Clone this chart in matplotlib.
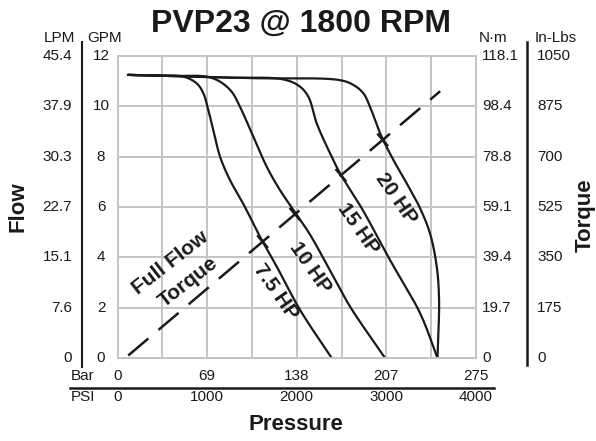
import numpy as np
import matplotlib
matplotlib.use("Agg")
import matplotlib.pyplot as plt
from matplotlib.transforms import blended_transform_factory

plt.rcParams['font.family'] = ['Liberation Sans', 'DejaVu Sans']
plt.rcParams['lines.scale_dashes'] = False

# ---------------- data ----------------
title = "PVP23 @ 1800 RPM"
gpm_ticks = [0, 2, 4, 6, 8, 10, 12]
lpm_labels = ["0", "7.6", "15.1", "22.7", "30.3", "37.9", "45.4"]
nm_labels = ["0", "19.7", "39.4", "59.1", "78.8", "98.4", "118.1"]
inlb_labels = ["0", "175", "350", "525", "700", "875", "1050"]
psi_ticks = [0, 1000, 2000, 3000, 4000]
bar_labels = ["0", "69", "138", "207", "275"]

# flow curves (PSI, GPM)
hp75_psi = [117, 400, 735, 884, 958, 1013, 1069, 1144, 1255, 1400, 1590, 1777, 2037, 2390]
hp75_gpm = [11.25, 11.22, 11.18, 10.91, 10.52, 9.85, 9.06, 8.0, 7.07, 6.15, 4.82, 3.63, 1.91, 0.0]
hp10_psi = [117, 600, 995, 1144, 1274, 1367, 1516, 1665, 1813, 2140, 2408, 2595, 2985]
hp10_gpm = [11.25, 11.21, 11.18, 10.98, 10.58, 9.98, 8.79, 7.6, 6.67, 4.95, 3.23, 2.04, 0.0]
hp15_psi = [117, 1200, 1850, 2030, 2130, 2223, 2372, 2483, 2725, 3041, 3376, 3570]
hp15_gpm = [11.25, 11.14, 11.07, 10.8, 10.38, 9.32, 8.13, 7.34, 5.95, 3.89, 1.78, 0.0]
hp20_psi = [117, 1500, 2483, 2632, 2743, 2818, 2930, 3078, 3227, 3376, 3487, 3562, 3588, 3570]
hp20_gpm = [11.25, 11.12, 11.04, 10.85, 10.52, 9.98, 8.93, 7.87, 6.94, 5.95, 4.95, 3.63, 2.3, 0.0]
curve_labels = ["7.5 HP", "10 HP", "15 HP", "20 HP"]
curve_label_psi = [1760, 2150, 2680, 3110]
curve_label_gpm = [2.62, 3.6, 5.16, 6.35]

# full flow torque line
torque_psi = [120, 3600]
torque_gpm = [0.1, 10.6]

# ---------------- figure ----------------
W, H = 596, 441
fig = plt.figure(figsize=(W / 100, H / 100), dpi=100)
L, R, T, B = 117.5, 476, 56, 358
ax = fig.add_axes([L / W, 1 - B / H, (R - L) / W, (B - T) / H])
ax.set_xlim(0, 4000)
ax.set_ylim(0, 12)
ax.set_xticks(np.arange(0, 4001, 500))
ax.set_yticks(gpm_ticks)
ax.grid(True, color='#c4c4c4', lw=1.4)
ax.tick_params(length=0, labelleft=False, labelbottom=False)
for s in ax.spines.values():
    s.set_color('#c4c4c4')
    s.set_linewidth(1.4)
ax.set_axisbelow(True)


def smooth(px, gy, n=20):
    """Centripetal Catmull-Rom through the points, in pixel-like space."""
    sx, sy = (R - L) / 4000.0, (B - T) / 12.0
    P = np.column_stack([np.asarray(px, float) * sx, np.asarray(gy, float) * sy])
    P = np.vstack([2 * P[0] - P[1], P, 2 * P[-1] - P[-2]])
    out = [P[1]]
    for i in range(1, len(P) - 2):
        p0, p1, p2, p3 = P[i - 1], P[i], P[i + 1], P[i + 2]
        t0 = 0.0
        t1 = t0 + np.linalg.norm(p1 - p0) ** 0.5 + 1e-9
        t2 = t1 + np.linalg.norm(p2 - p1) ** 0.5 + 1e-9
        t3 = t2 + np.linalg.norm(p3 - p2) ** 0.5 + 1e-9
        t = np.linspace(t1, t2, n)[1:, None]
        A1 = (t1 - t) / (t1 - t0) * p0 + (t - t0) / (t1 - t0) * p1
        A2 = (t2 - t) / (t2 - t1) * p1 + (t - t1) / (t2 - t1) * p2
        A3 = (t3 - t) / (t3 - t2) * p2 + (t - t2) / (t3 - t2) * p3
        B1 = (t2 - t) / (t2 - t0) * A1 + (t - t0) / (t2 - t0) * A2
        B2 = (t3 - t) / (t3 - t1) * A2 + (t - t1) / (t3 - t1) * A3
        C = (t2 - t) / (t2 - t1) * B1 + (t - t1) / (t2 - t1) * B2
        out.extend(C)
    out = np.array(out)
    return out[:, 0] / sx, out[:, 1] / sy


curves = [(hp75_psi, hp75_gpm), (hp10_psi, hp10_gpm), (hp15_psi, hp15_gpm), (hp20_psi, hp20_gpm)]
smoothed = []
for px, gy in curves:
    xs_, ys_ = smooth(px, gy)
    smoothed.append((xs_, ys_))
    ax.plot(xs_, ys_, color='#1a1a1a', lw=1.6, solid_capstyle='round', clip_on=False)

ax.plot(torque_psi, torque_gpm, color='#1a1a1a', lw=1.8, dashes=(19, 9.5), clip_on=False)

# tick marks where curves cross the torque line
tp = np.array(torque_psi, float)
tg = np.array(torque_gpm, float)
p0 = ax.transData.transform((tp[0], tg[0]))
p1 = ax.transData.transform((tp[1], tg[1]))
d = (p1 - p0) / np.hypot(*(p1 - p0))
nrm = np.array([-d[1], d[0]])
for cx, cy in smoothed:
    line_y = tg[0] + (cx - tp[0]) * (tg[1] - tg[0]) / (tp[1] - tp[0])
    diff = cy - line_y
    idx = np.where(np.diff(np.sign(diff)) != 0)[0]
    if len(idx):
        i = idx[0]
        c = ax.transData.transform((cx[i], line_y[i]))
        a = ax.transData.inverted().transform(c - nrm * 7)
        b = ax.transData.inverted().transform(c + nrm * 7)
        ax.plot([a[0], b[0]], [a[1], b[1]], color='#1a1a1a', lw=1.8)

for lab, x, y in zip(curve_labels, curve_label_psi, curve_label_gpm):
    ax.text(x, y, lab, rotation=-55, ha='center', va='center', fontsize=15,
            fontweight='bold', color='#1a1a1a', rotation_mode='anchor')
ax.text(590, 3.8, "Full Flow", rotation=38, ha='center', va='center', fontsize=15,
        fontweight='bold', color='#1a1a1a', rotation_mode='anchor')
ax.text(790, 3.0, "Torque", rotation=38, ha='center', va='center', fontsize=15,
        fontweight='bold', color='#1a1a1a', rotation_mode='anchor')

# ---------------- side axes ----------------
fy = blended_transform_factory(fig.transFigure, ax.transData)
tc = '#1a1a1a'
fs = 11
for g, l1, n1, i1 in zip(gpm_ticks, lpm_labels, nm_labels, inlb_labels):
    fig.text(72 / W, g, l1, transform=fy, ha='right', va='center', fontsize=fs, color=tc)
    fig.text(101 / W, g, str(g), transform=fy, ha='center', va='center', fontsize=fs, color=tc)
    fig.text(482 / W, g, n1, transform=fy, ha='left', va='center', fontsize=fs, color=tc)
    fig.text(537 / W, g, i1, transform=fy, ha='left', va='center', fontsize=fs, color=tc)

fig.text(59 / W, 1 - 38 / H, "LPM", ha='center', va='center', fontsize=fs, color=tc)
fig.text(105 / W, 1 - 38 / H, "GPM", ha='center', va='center', fontsize=fs, color=tc)
fig.text(493 / W, 1 - 38 / H, "N·m", ha='center', va='center', fontsize=fs, color=tc)
fig.text(556 / W, 1 - 38 / H, "In-Lbs", ha='center', va='center', fontsize=fs, color=tc)

fig.add_artist(plt.Line2D([82 / W, 82 / W], [1 - 42 / H, 1 - 367 / H], color='#1a1a1a', lw=1.5))
fig.add_artist(plt.Line2D([527 / W, 527 / W], [1 - 42 / H, 1 - 365 / H], color='#1a1a1a', lw=1.8))

fig.text(18 / W, 1 - 207 / H, "Flow", rotation=90, ha='center', va='center', fontsize=16,
         fontweight='bold', color=tc)
fig.text(585 / W, 1 - 215 / H, "Torque", rotation=90, ha='center', va='center', fontsize=16,
         fontweight='bold', color=tc)

# ---------------- bottom axes ----------------
fx = blended_transform_factory(ax.transData, fig.transFigure)
for p, bl in zip(psi_ticks, bar_labels):
    fig.text(p, 1 - 376 / H, bl, transform=fx, ha='center', va='center', fontsize=fs, color=tc)
    fig.text(p, 1 - 397 / H, str(p), transform=fx, ha='center', va='center', fontsize=fs, color=tc)
fig.text(71 / W, 1 - 376 / H, "Bar", ha='left', va='center', fontsize=fs, color=tc)
fig.text(71 / W, 1 - 397 / H, "PSI", ha='left', va='center', fontsize=fs, color=tc)
fig.add_artist(plt.Line2D([70 / W, 494 / W], [1 - 388 / H, 1 - 388 / H], color='#1a1a1a', lw=1.8))

fig.text(296 / W, 1 - 424 / H, "Pressure", ha='center', va='center', fontsize=16,
         fontweight='bold', color=tc)
fig.text(301 / W, 1 - 32 / H, title, ha='center', va='baseline', fontsize=23,
         fontweight='bold', color=tc)

fig.savefig("out.png", dpi=100)
